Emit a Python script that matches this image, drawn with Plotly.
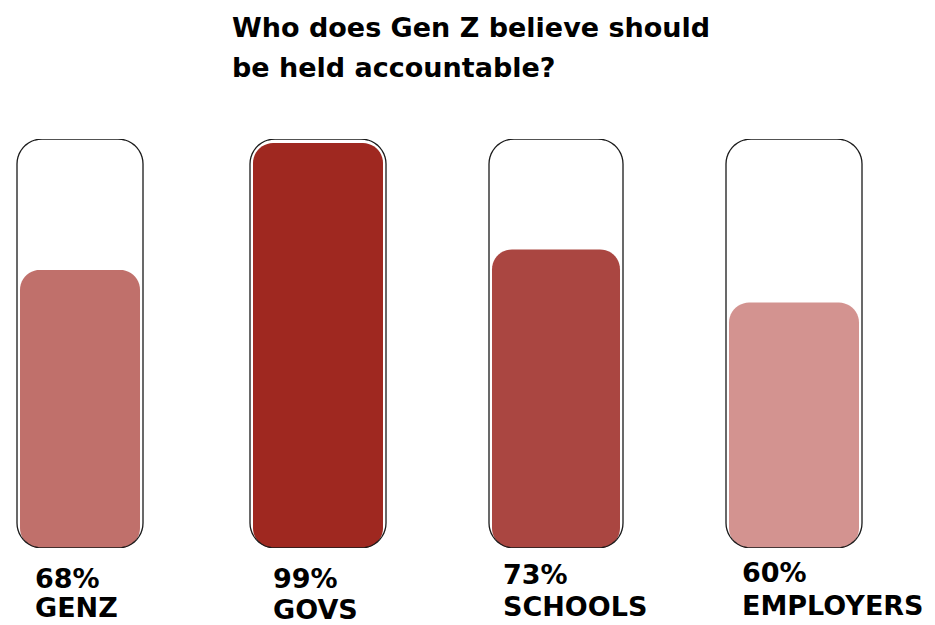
import plotly.graph_objects as go
import numpy as np

# ---- data ----
categories = ["GENZ", "GOVS", "SCHOOLS", "EMPLOYERS"]
values = [68, 99, 73, 60]
value_labels = ["68%", "99%", "73%", "60%"]
fill_colors = ["#C0706B", "#9F2820", "#AA4641", "#D39390"]
title_lines = ["Who does Gen Z believe should", "be held accountable?"]

# ---- geometry ----
W, H = 935, 625
spacing_px = 238.0
first_center_px = 80.0
x_lo = -first_center_px / spacing_px
x_hi = (W - first_center_px) / spacing_px
m_top, m_bot = 139, 77
plot_h = H - m_top - m_bot
px_x = W / (x_hi - x_lo)
px_y = plot_h / 100.0

half_w_outer_px = [63, 68, 67, 68]
r_outer = 25
r_inner = 20


def ypaper(py):
    return (H - m_bot - py) / plot_h


def rounded_rect(x0, x1, y0, y1, rpx):
    rx = rpx / px_x
    ry = min(rpx / px_y, (y1 - y0) / 2)
    n = 12
    pts = []
    corners = [
        (x1 - rx, y1 - ry, 0, 90),
        (x0 + rx, y1 - ry, 90, 180),
        (x0 + rx, y0 + ry, 180, 270),
        (x1 - rx, y0 + ry, 270, 360),
    ]
    for cx, cy, a0, a1 in corners:
        for a in np.linspace(np.radians(a0), np.radians(a1), n):
            pts.append((cx + rx * np.cos(a), cy + ry * np.sin(a)))
    return "M " + " L ".join(f"{px:.5f},{py:.4f}" for px, py in pts) + " Z"


fig = go.Figure()
fig.add_trace(go.Scatter(x=list(range(len(categories))), y=values, mode="markers",
                         marker=dict(opacity=0), hoverinfo="skip", showlegend=False))

shapes = []
for i, v in enumerate(values):
    hw = (half_w_outer_px[i] - 3) / px_x
    shapes.append(dict(type="path", xref="x", yref="y",
                       path=rounded_rect(i - hw, i + hw, 0, v, r_inner),
                       fillcolor=fill_colors[i], line=dict(width=0), layer="above"))
for i, v in enumerate(values):
    hw = half_w_outer_px[i] / px_x
    shapes.append(dict(type="path", xref="x", yref="y",
                       path=rounded_rect(i - hw, i + hw, 0, 100, r_outer),
                       fillcolor="rgba(0,0,0,0)", line=dict(color="#1a1a1a", width=1.3), layer="above"))

font_fam = "DejaVu Sans, Arial Black, sans-serif"
annotations = []
for k, (line, cy) in enumerate(zip(title_lines, [27, 68])):
    annotations.append(dict(text=line, xref="paper", yref="paper", x=230 / W, y=ypaper(cy),
                            xanchor="left", yanchor="middle", align="left", showarrow=False,
                            font=dict(family=font_fam, size=27, color="#000", weight="bold")))
label_off = [-47, -47, -55, -54]
pct_y = [578, 578, 574, 572]
name_y = [607, 609, 606, 605]
for i, c in enumerate(categories):
    xx = i + label_off[i] / px_x
    annotations.append(dict(text=value_labels[i], xref="x", yref="paper", x=xx, y=ypaper(pct_y[i]),
                            xanchor="left", yanchor="middle", showarrow=False,
                            font=dict(family=font_fam, size=27, color="#000", weight="bold")))
    annotations.append(dict(text=c, xref="x", yref="paper", x=xx, y=ypaper(name_y[i]),
                            xanchor="left", yanchor="middle", showarrow=False,
                            font=dict(family=font_fam, size=27, color="#000", weight="bold")))

fig.update_layout(
    width=W, height=H,
    margin=dict(l=0, r=0, t=m_top, b=m_bot),
    paper_bgcolor="white", plot_bgcolor="white",
    xaxis=dict(range=[x_lo, x_hi], visible=False, fixedrange=True),
    yaxis=dict(range=[0, 100], visible=False, fixedrange=True),
    shapes=shapes, annotations=annotations, showlegend=False,
)
fig.write_html("out.html", config={"displayModeBar": False},
               post_script="document.body.style.margin='0';")
